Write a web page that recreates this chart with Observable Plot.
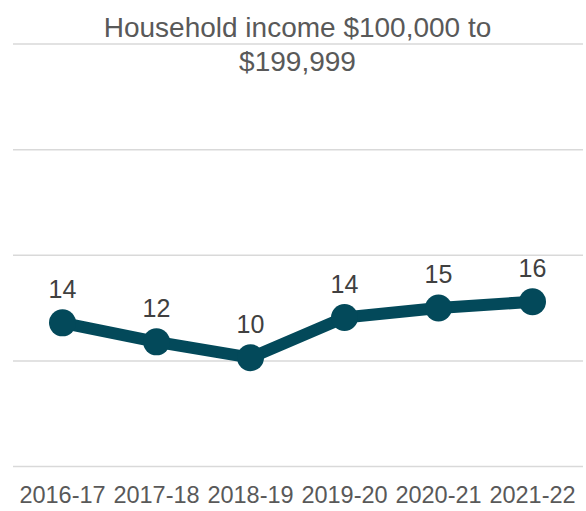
<!DOCTYPE html>
<html>
<head>
<meta charset="utf-8">
<script src="https://cdn.jsdelivr.net/npm/d3@7"></script>
<script src="https://cdn.jsdelivr.net/npm/@observablehq/plot@0.6"></script>
<style>
  html, body { margin: 0; padding: 0; background: #fff; }
  #chart svg { display: block; }
</style>
</head>
<body>
<div id="chart"></div>
<script>
const title = "Household income $100,000 to\n$199,999";
const years = ["2016-17", "2017-18", "2018-19", "2019-20", "2020-21", "2021-22"];
const values = [13.6, 11.8, 10.3, 14.1, 15.0, 15.6];
const gridTicks = [0, 10, 20, 30, 40];

const data = years.map((year, i) => ({ year, value: values[i], label: String(Math.round(values[i])) }));

const font = "'Liberation Sans', Arial, sans-serif";
const lineColor = "#03495a";

const chart = Plot.plot({
  width: 586,
  height: 511,
  marginLeft: 14,
  marginRight: 6,
  marginTop: 43.5,
  marginBottom: 45,
  style: { fontFamily: font, background: "#fff" },
  x: { type: "point", domain: years, padding: 0.5, label: null },
  y: { domain: [0, 40], axis: null },
  marks: [
    Plot.ruleY(gridTicks, { stroke: "#d9d9d9", strokeWidth: 1.5, insetLeft: -1, insetRight: -3 }),
    Plot.axisX({ tickSize: 0, tickPadding: 20, fontSize: 23.5, fill: "#595959", label: null }),
    Plot.line(data, { x: "year", y: "value", stroke: lineColor, strokeWidth: 12, strokeLinejoin: "round" }),
    Plot.dot(data, { x: "year", y: "value", r: 13.5, fill: lineColor, stroke: "none" }),
    Plot.text(data, { x: "year", y: "value", text: "label", dy: -33, fontSize: 25, fill: "#404040" }),
    Plot.text([title], { frameAnchor: "top", text: d => d, dy: -1, fontSize: 28, lineHeight: 1.23, fill: "#595959", lineAnchor: "middle" })
  ]
});

document.getElementById("chart").appendChild(chart);
</script>
</body>
</html>
